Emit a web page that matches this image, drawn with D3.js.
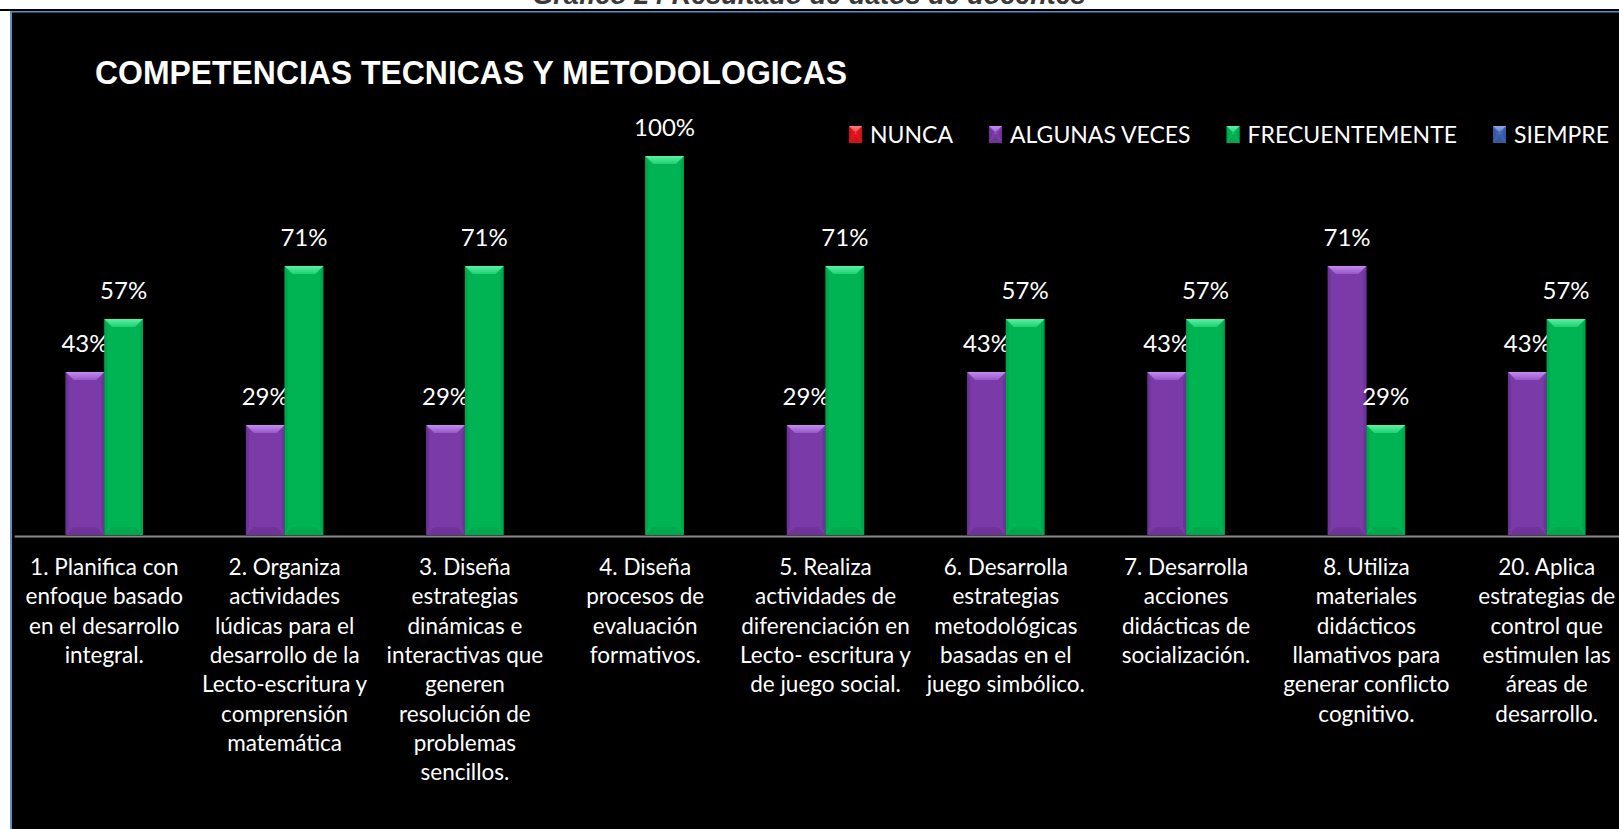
<!DOCTYPE html>
<html>
<head>
<meta charset="utf-8">
<script src="https://cdn.jsdelivr.net/npm/d3@7/dist/d3.min.js"></script>
<style>
  body { margin: 0; background: #fff; overflow: hidden; }
  .lbl { font-family: Lato, "Open Sans", sans-serif; fill: #fff; }
</style>
</head>
<body>
<script>
// ---- data ----
var categories = [
  ["1. Planifica con", "enfoque basado", "en el desarrollo", "integral."],
  ["2. Organiza", "actividades", "lúdicas para el", "desarrollo de la", "Lecto-escritura y", "comprensión", "matemática"],
  ["3. Diseña", "estrategias", "dinámicas e", "interactivas que", "generen", "resolución de", "problemas", "sencillos."],
  ["4. Diseña", "procesos de", "evaluación", "formativos."],
  ["5. Realiza", "actividades de", "diferenciación en", "Lecto- escritura y", "de juego social."],
  ["6. Desarrolla", "estrategias", "metodológicas", "basadas en el", "juego simbólico."],
  ["7. Desarrolla", "acciones", "didácticas de", "socialización."],
  ["8. Utiliza", "materiales", "didácticos", "llamativos para", "generar conflicto", "cognitivo."],
  ["20. Aplica", "estrategias de", "control que", "estimulen las", "áreas de", "desarrollo."]
];
var seriesNames = ["NUNCA", "ALGUNAS VECES", "FRECUENTEMENTE", "SIEMPRE"];
var nunca          = [0, 0, 0, 0, 0, 0, 0, 0, 0];
var algunasVeces   = [0.43, 0.29, 0.29, 0, 0.29, 0.43, 0.43, 0.71, 0.43];
var frecuentemente = [0.57, 0.71, 0.71, 1.00, 0.71, 0.57, 0.57, 0.29, 0.57];
var siempre        = [0, 0, 0, 0, 0, 0, 0, 0, 0];
var chartTitle = "COMPETENCIAS TECNICAS Y METODOLOGICAS";
var pageTitle = "Gráfico 24 Resultado de datos de docentes";

var seriesValues = [nunca, algunasVeces, frecuentemente, siempre];

// colours per series: body, bevel top light, bevel top dark, edge
var pal = {
  "NUNCA":          ["#e3141b", "#ff7b7b", "#f03a3a", "#b81015"],
  "ALGUNAS VECES":  ["#7a3aa7", "#c48cf0", "#9656c8", "#632d8c"],
  "FRECUENTEMENTE": ["#00b453", "#5cf0a4", "#1fd172", "#009a47"],
  "SIEMPRE":        ["#3c62ad", "#88a8e6", "#5678c2", "#2f4f8f"]
};

var W = 1619, H = 829;
var svg = d3.select("body").append("svg")
  .attr("width", W).attr("height", H);

var defs = svg.append("defs");
seriesNames.forEach(function(s, i) {
  var g = defs.append("linearGradient").attr("id", "top" + i)
    .attr("x1", 0).attr("y1", 0).attr("x2", 0).attr("y2", 1);
  g.append("stop").attr("offset", "0%").attr("stop-color", pal[s][1]);
  g.append("stop").attr("offset", "100%").attr("stop-color", pal[s][2]);
});

// page frame (document caption is cut at the top edge, as in the source)
svg.append("text")
  .attr("x", 809).attr("y", 4)
  .attr("text-anchor", "middle")
  .style("font-family", "'Liberation Sans', Arial, sans-serif")
  .style("font-weight", "bold").style("font-style", "italic")
  .style("font-size", "27px").style("fill", "#3a3a3a")
  .text(pageTitle);
svg.append("rect").attr("x", 0).attr("y", 9).attr("width", W).attr("height", 2).attr("fill", "#000");
svg.append("rect").attr("x", 10).attr("y", 11).attr("width", W - 10).attr("height", H - 11).attr("fill", "#5b8ec8");
svg.append("rect").attr("x", 12).attr("y", 12.5).attr("width", W - 12).attr("height", H - 12.5).attr("fill", "#000");

// scales
var y = d3.scaleLinear().domain([0, 1]).range([535, 156]);
var x0 = d3.scaleBand().domain(d3.range(categories.length))
  .range([14.15, 1636.85]).paddingInner(0.1414).paddingOuter(0.0707);
var x1 = d3.scaleBand().domain(seriesNames).range([0, x0.bandwidth()]);

// axis
var xAxis = svg.append("g")
  .attr("transform", "translate(0," + 536 + ")")
  .call(d3.axisBottom(x0).tickSize(0).tickFormat(""));
xAxis.select(".domain").attr("stroke", "#8a8a8a").attr("stroke-width", 2);

// category labels
var catG = svg.append("g").selectAll("text")
  .data(categories).enter().append("text")
  .attr("class", "lbl")
  .attr("text-anchor", "middle")
  .style("font-size", "22.5px")
  .attr("transform", function(d, i) {
    return "translate(" + (x0(i) + x0.bandwidth() / 2) + ",575)";
  });
catG.selectAll("tspan").data(function(d) { return d; }).enter().append("tspan")
  .attr("x", 0)
  .attr("y", function(d, j) { return j * 29.3; })
  .text(function(d) { return d; });

// bars
function bevelBar(g, sIdx, bx, by, bw, bh) {
  var s = seriesNames[sIdx], c = pal[s];
  var b = Math.min(8, bh / 2);
  g.append("rect").attr("x", bx).attr("y", by).attr("width", bw).attr("height", bh)
    .attr("fill", c[0]);
  // side shading
  g.append("polygon")
    .attr("points", [[bx, by], [bx + 3, by + b], [bx + 3, by + bh - b], [bx, by + bh]].join(" "))
    .attr("fill", c[3]).attr("opacity", 0.55);
  g.append("polygon")
    .attr("points", [[bx + bw, by], [bx + bw - 3, by + b], [bx + bw - 3, by + bh - b], [bx + bw, by + bh]].join(" "))
    .attr("fill", c[3]).attr("opacity", 0.55);
  // bottom bevel
  g.append("polygon")
    .attr("points", [[bx, by + bh], [bx + b, by + bh - b], [bx + bw - b, by + bh - b], [bx + bw, by + bh]].join(" "))
    .attr("fill", c[3]).attr("opacity", 0.45);
  // top bevel
  g.append("polygon")
    .attr("points", [[bx, by], [bx + bw, by], [bx + bw - b, by + b], [bx + b, by + b]].join(" "))
    .attr("fill", "url(#top" + sIdx + ")");
}

var groups = svg.append("g").selectAll("g")
  .data(categories).enter().append("g")
  .attr("transform", function(d, i) { return "translate(" + x0(i) + ",0)"; });

groups.each(function(d, i) {
  var g = d3.select(this);
  seriesNames.forEach(function(s, k) {
    var v = seriesValues[k][i];
    if (!v) return;
    bevelBar(g.append("g"), k, x1(s), y(v), x1.bandwidth(), y(0) - y(v));
    g.append("text")
      .attr("class", "lbl")
      .attr("x", x1(s) + x1.bandwidth() / 2)
      .attr("y", y(v) - 20)
      .attr("text-anchor", "middle")
      .style("font-size", "24px")
      .text(d3.format(".0%")(v));
  });
});

// chart title
svg.append("text")
  .attr("x", 95).attr("y", 84)
  .style("font-family", "'Liberation Sans', Arial, sans-serif")
  .style("font-weight", "bold").style("font-size", "33px").style("fill", "#fff")
  .attr("textLength", 752).attr("lengthAdjust", "spacingAndGlyphs")
  .text(chartTitle);

// legend
var legend = svg.append("g").attr("transform", "translate(849,0)");
var cx = 0;
seriesNames.forEach(function(s, k) {
  var item = legend.append("g").attr("transform", "translate(" + cx + ",0)");
  bevelBar(item, k, 0, 126, 13, 17);
  var t = item.append("text").attr("class", "lbl")
    .attr("x", 21).attr("y", 142.5)
    .style("font-size", "23px")
    .text(s);
  cx += 21 + t.node().getComputedTextLength() + 36;
});
</script>
</body>
</html>
